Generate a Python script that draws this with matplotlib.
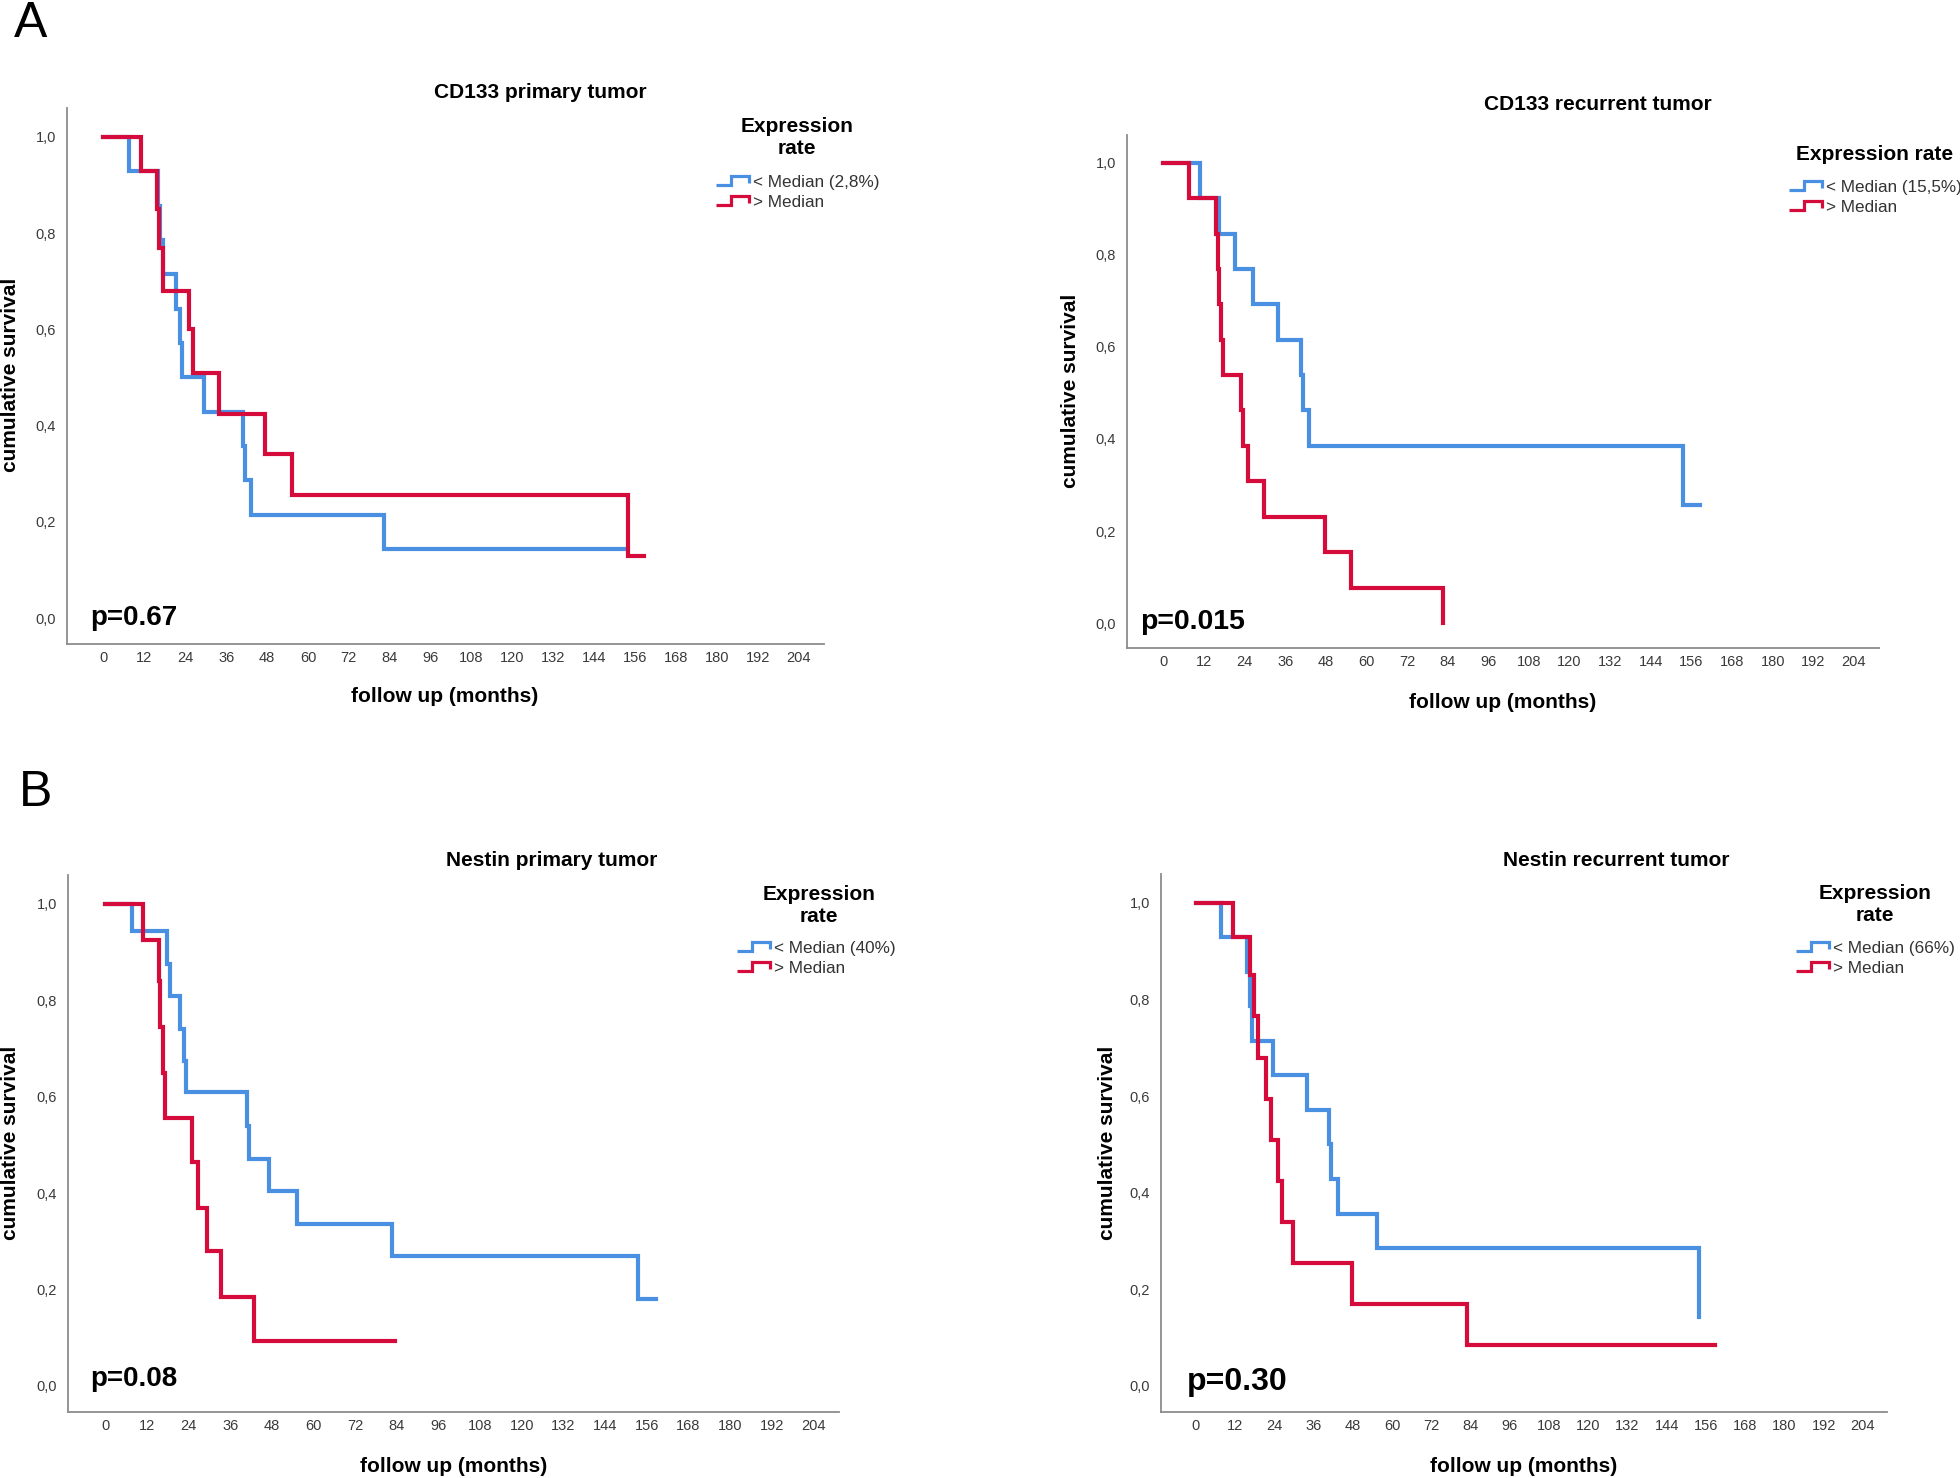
import matplotlib
matplotlib.use("Agg")
import matplotlib.pyplot as plt
from matplotlib.lines import Line2D
from matplotlib.legend_handler import HandlerBase

plt.rcParams['font.family'] = ['Liberation Sans', 'DejaVu Sans']

BLUE = '#4a90e2'
RED = '#d50b3c'

# Kaplan-Meier steps (months, cumulative survival)
cd133_prim_low_t = [0, 7.5, 16.0, 16.7, 17.4, 21.3, 22.5, 23.0, 29.6, 40.9, 41.4, 43.2, 82.4, 153.2]
cd133_prim_low_s = [1.0, 0.929, 0.857, 0.786, 0.714, 0.643, 0.571, 0.5, 0.429, 0.357, 0.286, 0.214, 0.143, 0.143]
cd133_prim_high_t = [0, 10.9, 15.7, 16.2, 17.4, 25.2, 26.4, 33.9, 47.5, 55.3, 153.8, 158.7]
cd133_prim_high_s = [1.0, 0.93, 0.85, 0.77, 0.68, 0.60, 0.51, 0.425, 0.34, 0.255, 0.128, 0.128]

cd133_rec_low_t = [0, 10.8, 16.5, 21.2, 26.4, 33.9, 40.7, 41.2, 43.1, 153.6, 158.6]
cd133_rec_low_s = [1.0, 0.923, 0.846, 0.769, 0.692, 0.615, 0.538, 0.462, 0.385, 0.256, 0.256]
cd133_rec_high_t = [0, 7.7, 15.7, 16.1, 16.5, 17.2, 17.7, 23.0, 23.5, 25.0, 29.9, 47.7, 55.5, 82.6]
cd133_rec_high_s = [1.0, 0.923, 0.846, 0.769, 0.692, 0.615, 0.538, 0.462, 0.385, 0.308, 0.231, 0.154, 0.077, 0.0]

nestin_prim_low_t = [0, 7.6, 17.9, 18.8, 21.6, 22.7, 23.2, 41.0, 41.5, 47.3, 55.4, 82.5, 153.5, 158.8]
nestin_prim_low_s = [1.0, 0.944, 0.875, 0.81, 0.74, 0.675, 0.61, 0.54, 0.47, 0.405, 0.335, 0.27, 0.18, 0.18]
nestin_prim_high_t = [0, 11.0, 15.4, 15.9, 16.6, 17.3, 24.9, 26.7, 29.4, 33.5, 43.0, 83.5]
nestin_prim_high_s = [1.0, 0.925, 0.84, 0.745, 0.65, 0.555, 0.465, 0.37, 0.28, 0.185, 0.093, 0.093]

nestin_rec_low_t = [0, 7.7, 15.7, 16.4, 17.2, 23.6, 34.0, 40.8, 41.3, 43.4, 55.4, 154.0]
nestin_rec_low_s = [1.0, 0.929, 0.857, 0.786, 0.714, 0.643, 0.571, 0.5, 0.429, 0.357, 0.286, 0.143]
nestin_rec_high_t = [0, 11.2, 16.4, 17.6, 19.1, 21.5, 22.9, 25.1, 26.3, 29.8, 47.7, 82.8, 158.9]
nestin_rec_high_s = [1.0, 0.93, 0.85, 0.765, 0.68, 0.595, 0.51, 0.425, 0.34, 0.255, 0.17, 0.085, 0.085]

titles = ['CD133 primary tumor', 'CD133 recurrent tumor', 'Nestin primary tumor', 'Nestin recurrent tumor']
low_labels = ['< Median (2,8%)', '< Median (15,5%)', '< Median (40%)', '< Median (66%)']
legend_titles = ['Expression\nrate', 'Expression rate', 'Expression\nrate', 'Expression\nrate']
p_values = ['p=0.67', 'p=0.015', 'p=0.08', 'p=0.30']
x_ticks = list(range(0, 205, 12))
y_ticks = [0.0, 0.2, 0.4, 0.6, 0.8, 1.0]
y_ticklabels = ['0,0', '0,2', '0,4', '0,6', '0,8', '1,0']

W, H = 1960, 1478


def px_rect(x0, y0, x1, y1):
    return [x0 / W, 1 - y1 / H, (x1 - x0) / W, (y1 - y0) / H]


def fx(x):
    return x / W


def fy(y):
    return 1 - y / H


class StepHandle(HandlerBase):
    # small step icon like the SPSS legend
    def create_artists(self, legend, orig, xd, yd, width, height, fontsize, trans):
        x0, y0 = -xd, -yd
        xs = [x0, x0 + 0.45 * width, x0 + 0.45 * width, x0 + width, x0 + width]
        ys = [y0 + 0.1 * height, y0 + 0.1 * height, y0 + 0.95 * height, y0 + 0.95 * height, y0 + 0.3 * height]
        ln = Line2D(xs, ys, color=orig.get_color(), lw=2.3, solid_joinstyle='miter', solid_capstyle='butt')
        ln.set_transform(trans)
        return [ln]


panels = [
    dict(rect=(67, 108, 824, 644), low=(cd133_prim_low_t, cd133_prim_low_s), high=(cd133_prim_high_t, cd133_prim_high_s),
         title_xy=(540, 93), xlab_xy=(445, 697), ylab_xy=(11, 375), leg_xy=(716, 175), legt_xy=(797, 137),
         p_xy=(90, 625), p_size=20),
    dict(rect=(1127, 135, 1879, 648), low=(cd133_rec_low_t, cd133_rec_low_s), high=(cd133_rec_high_t, cd133_rec_high_s),
         title_xy=(1598, 105), xlab_xy=(1503, 702), ylab_xy=(1071, 391), leg_xy=(1789, 180), legt_xy=(1875, 154),
         p_xy=(1140, 629), p_size=20.5),
    dict(rect=(68, 875, 839, 1412), low=(nestin_prim_low_t, nestin_prim_low_s), high=(nestin_prim_high_t, nestin_prim_high_s),
         title_xy=(552, 860), xlab_xy=(454, 1466), ylab_xy=(11, 1143), leg_xy=(737, 941), legt_xy=(819, 905),
         p_xy=(90, 1386), p_size=20),
    dict(rect=(1161, 874, 1887, 1412), low=(nestin_rec_low_t, nestin_rec_low_s), high=(nestin_rec_high_t, nestin_rec_high_s),
         title_xy=(1616, 860), xlab_xy=(1524, 1466), ylab_xy=(1107, 1143), leg_xy=(1796, 941), legt_xy=(1875, 904),
         p_xy=(1187, 1390), p_size=23),
]

fig = plt.figure(figsize=(W / 100, H / 100), dpi=100)

for i, pan in enumerate(panels):
    ax = fig.add_axes(px_rect(*pan['rect']))
    l1, = ax.step(pan['low'][0], pan['low'][1], where='post', color=BLUE, lw=3.0,
                  solid_joinstyle='miter', label=low_labels[i])
    l2, = ax.step(pan['high'][0], pan['high'][1], where='post', color=RED, lw=3.0,
                  solid_joinstyle='miter', label='> Median')
    ax.set_xlim(-10.7, 211.4)
    ax.set_ylim(-0.054, 1.06)
    ax.set_xticks(x_ticks)
    ax.set_yticks(y_ticks)
    ax.set_yticklabels(y_ticklabels)
    ax.tick_params(length=0, labelsize=10.5, labelcolor='#3a3a3a')
    ax.tick_params(axis='x', pad=5)
    ax.tick_params(axis='y', pad=8)
    for side in ['top', 'right']:
        ax.spines[side].set_visible(False)
    for side in ['left', 'bottom']:
        ax.spines[side].set_color('#8c8c8c')
        ax.spines[side].set_linewidth(1.3)

    fig.text(fx(pan['title_xy'][0]), fy(pan['title_xy'][1]), titles[i], ha='center', va='center',
             fontsize=15, fontweight='bold')
    fig.text(fx(pan['xlab_xy'][0]), fy(pan['xlab_xy'][1]), 'follow up (months)', ha='center', va='center',
             fontsize=15, fontweight='bold')
    fig.text(fx(pan['ylab_xy'][0]), fy(pan['ylab_xy'][1]), 'cumulative survival', ha='center', va='center',
             rotation=90, fontsize=15, fontweight='bold')
    fig.text(fx(pan['p_xy'][0]), fy(pan['p_xy'][1]), p_values[i], ha='left', va='baseline',
             fontsize=pan['p_size'], fontweight='bold')

    # legend title drawn separately to get the SPSS spacing
    fig.text(fx(pan['legt_xy'][0]), fy(pan['legt_xy'][1]), legend_titles[i], ha='center', va='center',
             multialignment='center', fontsize=15, fontweight='bold')
    leg = ax.legend(handles=[l1, l2], loc='upper left',
                    bbox_to_anchor=(fx(pan['leg_xy'][0]), fy(pan['leg_xy'][1])), bbox_transform=fig.transFigure,
                    frameon=False, fontsize=12.3, handlelength=1.95, handleheight=0.6, handletextpad=0.2,
                    labelspacing=0.27, borderpad=0, borderaxespad=0,
                    handler_map={Line2D: StepHandle()})
    for t in leg.get_texts():
        t.set_color('#333333')

fig.text(fx(14), fy(37), 'A', fontsize=36, ha='left', va='baseline')
fig.text(fx(19), fy(806), 'B', fontsize=36, ha='left', va='baseline')

fig.savefig('out.png', dpi=100)
